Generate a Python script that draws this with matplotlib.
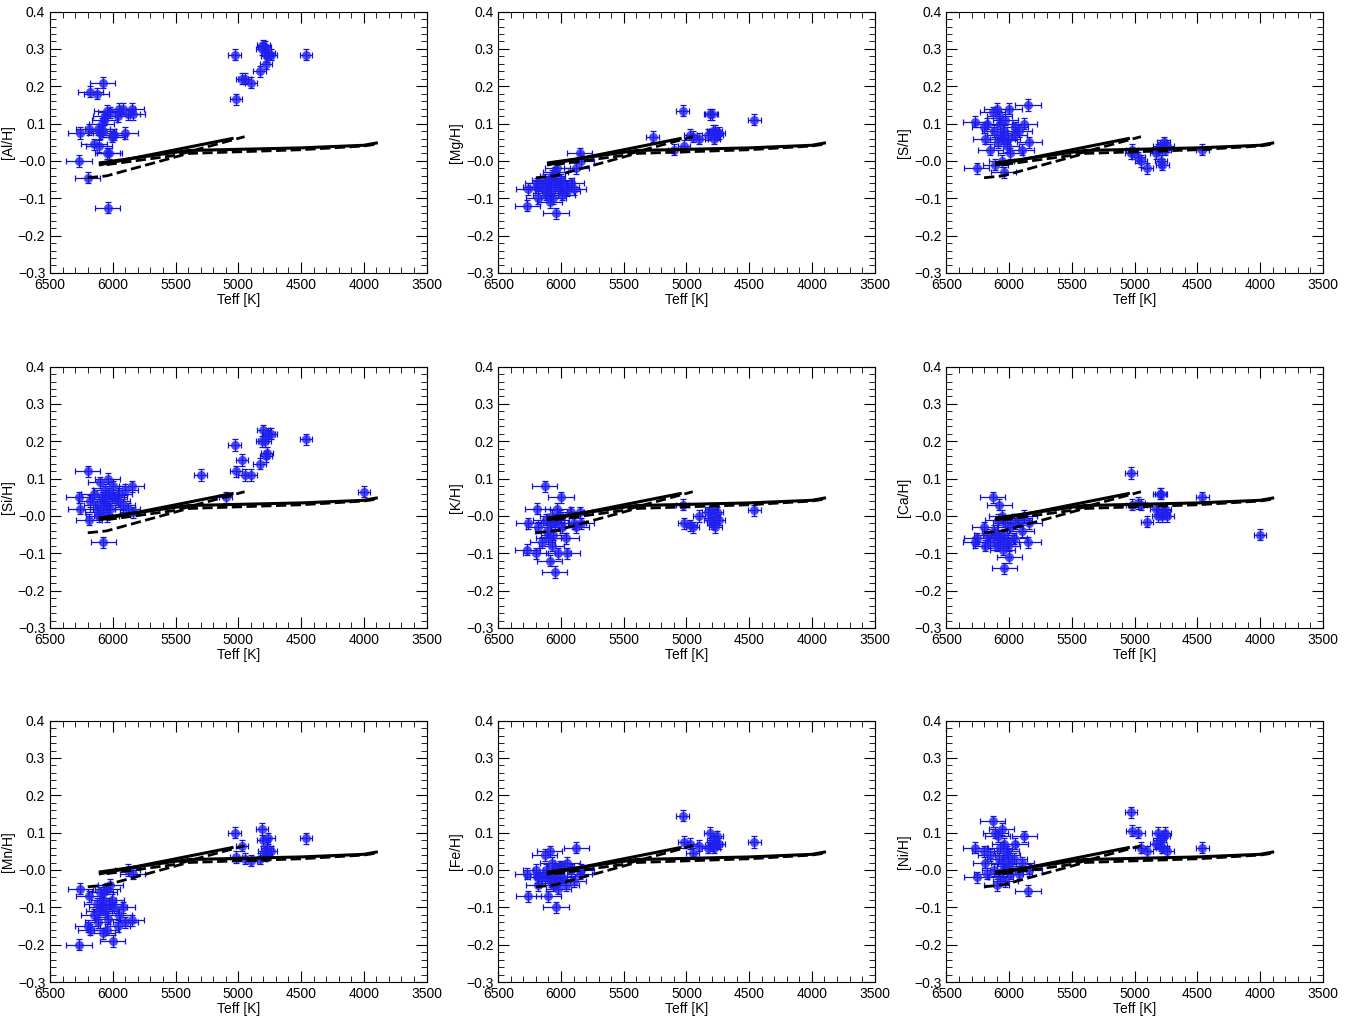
import matplotlib
matplotlib.use("Agg")
import matplotlib.pyplot as plt
from matplotlib.ticker import MultipleLocator, FuncFormatter

plt.rcParams['font.family'] = ['Liberation Sans', 'DejaVu Sans']
plt.rcParams['font.size'] = 10

# Teff of the dwarf and giant stars
teff_dwarf = [6270, 6260, 6200, 6190, 6180, 6150, 6130, 6120, 6100, 6090,
              6080, 6075, 6070, 6060, 6050, 6045, 6040, 6030, 6020, 6000,
              5990, 5960, 5950, 5920, 5900, 5880, 5850, 5840, 6110, 6010]
teff_giant = [5030, 5020, 4970, 4950, 4900, 4830, 4810, 4800, 4790, 4780,
              4770, 4760, 4740, 4460]

al_d = [0.0, 0.075, -0.045, 0.085, 0.185, 0.045, 0.18, 0.085, 0.075, 0.1,
        0.21, 0.08, 0.11, 0.12, 0.135, 0.02, -0.125, 0.02, 0.13, 0.07,
        0.07, 0.12, 0.14, 0.14, 0.075, 0.125, 0.14, 0.125, 0.04, 0.065]
al_g = [0.285, 0.165, 0.22, 0.22, 0.21, 0.24, 0.3, 0.31, 0.305, 0.26,
        0.28, 0.29, 0.285, 0.285]
mg_d = [-0.12, -0.075, -0.07, -0.06, -0.1, -0.07, -0.05, -0.09, -0.06, -0.11,
        -0.08, -0.05, -0.04, -0.1, -0.06, -0.03, -0.14, -0.02, -0.07, -0.05,
        -0.09, -0.07, -0.08, -0.06, -0.075, -0.02, 0.02, 0.0, -0.08, -0.06]
mg_g = [0.135, 0.04, 0.07, 0.065, 0.06, 0.07, 0.125, 0.125, 0.08, 0.06,
        0.08, 0.07, 0.075, 0.11]
s_d = [0.105, -0.02, 0.09, 0.06, 0.1, 0.03, 0.13, 0.08, 0.14, 0.05,
       0.12, 0.07, 0.1, 0.0, 0.06, -0.03, 0.08, 0.11, 0.04, 0.14,
       0.02, 0.07, 0.09, 0.08, 0.03, 0.1, 0.15, 0.05, -0.01, 0.06]
s_g = [0.02, 0.03, 0.01, 0.0, -0.02, 0.02, 0.03, 0.04, 0.0, -0.01,
       0.05, 0.03, 0.04, 0.03]
si_d = [0.05, 0.02, 0.12, -0.01, 0.04, 0.06, 0.03, 0.01, 0.09, 0.05,
        0.02, -0.07, 0.04, 0.07, 0.0, 0.03, 0.1, 0.06, 0.02, 0.08,
        0.05, 0.04, 0.06, 0.03, 0.07, 0.02, 0.08, 0.01, 0.0, 0.05]
si_g = [0.19, 0.12, 0.15, 0.11, 0.11, 0.14, 0.2, 0.23, 0.2, 0.16,
        0.17, 0.22, 0.22, 0.205]
k_d = [-0.09, -0.02, -0.1, 0.02, -0.03, -0.07, 0.08, -0.01, -0.06, -0.12,
       -0.02, -0.08, 0.0, -0.05, -0.15, -0.02, -0.01, 0.02, -0.1, 0.05,
       -0.03, -0.06, -0.1, 0.01, -0.02, -0.03, 0.01, -0.02, -0.04, 0.0]
k_g = [0.03, -0.02, -0.025, -0.03, 0.0, 0.01, -0.01, 0.02, -0.02, 0.0,
       -0.03, 0.01, -0.01, 0.015]
ca_d = [-0.07, -0.06, -0.03, -0.08, -0.05, -0.07, 0.05, -0.04, -0.08, -0.01,
        0.03, -0.06, -0.07, 0.0, -0.09, -0.05, -0.14, -0.02, -0.07, -0.11,
        -0.03, -0.06, -0.02, -0.01, -0.04, 0.0, -0.07, -0.02, -0.05, -0.08]
ca_g = [0.115, 0.03, 0.035, 0.03, -0.015, 0.02, 0.0, 0.06, 0.06, 0.0,
        0.01, 0.02, 0.0, 0.05]
mn_d = [-0.2, -0.05, -0.15, -0.07, -0.16, -0.12, -0.09, -0.14, -0.06, -0.1,
        -0.17, -0.08, -0.06, -0.11, -0.16, -0.05, -0.13, -0.09, -0.04, -0.19,
        -0.1, -0.15, -0.12, -0.1, -0.14, -0.0, -0.135, -0.01, -0.11, -0.08]
mn_g = [0.1, 0.035, 0.065, 0.03, 0.025, 0.03, 0.11, 0.08, 0.05, 0.04,
        0.06, 0.085, 0.05, 0.085]
fe_d = [-0.01, -0.07, 0.0, -0.02, -0.04, -0.02, 0.04, 0.0, -0.07, 0.05,
        -0.03, -0.01, 0.02, -0.04, -0.02, 0.0, -0.1, -0.03, -0.05, 0.01,
        -0.02, -0.04, 0.02, 0.0, -0.03, 0.06, -0.01, 0.0, -0.02, 0.01]
fe_g = [0.145, 0.075, 0.07, 0.045, 0.065, 0.06, 0.1, 0.065, 0.08, 0.06,
        0.07, 0.09, 0.07, 0.075]
ni_d = [0.06, -0.02, 0.05, 0.02, -0.01, 0.04, 0.13, 0.0, -0.04, 0.09,
        0.03, 0.06, -0.02, 0.11, 0.0, 0.02, 0.07, -0.03, 0.05, 0.01,
        -0.01, 0.03, 0.07, -0.01, 0.02, 0.09, -0.055, 0.0, 0.1, 0.04]
ni_g = [0.155, 0.105, 0.1, 0.06, 0.05, 0.07, 0.1, 0.08, 0.065, 0.06,
        0.09, 0.1, 0.05, 0.06]

# extra stars appearing only in some panels
extra_teff = {'Mg': [5270, 5100], 'Si': [5300, 5100, 4000], 'Ca': [4000]}
extra_val = {'Mg': [0.065, 0.03], 'Si': [0.11, 0.05, 0.065], 'Ca': [-0.05]}

elements = ['Al', 'Mg', 'S', 'Si', 'K', 'Ca', 'Mn', 'Fe', 'Ni']
dwarf_vals = [al_d, mg_d, s_d, si_d, k_d, ca_d, mn_d, fe_d, ni_d]
giant_vals = [al_g, mg_g, s_g, si_g, k_g, ca_g, mn_g, fe_g, ni_g]

# model tracks
solid1_t = [6100, 5050]
solid1_v = [-0.01, 0.06]
solid2_t = [6100, 5400, 4500, 4000, 3900]
solid2_v = [-0.005, 0.028, 0.035, 0.042, 0.048]
dash1_t = [6200, 6050, 5400, 4500, 4000, 3900]
dash1_v = [-0.045, -0.04, 0.02, 0.03, 0.04, 0.045]
dash2_t = [6050, 5500, 4950]
dash2_v = [-0.01, 0.015, 0.065]

fig = plt.figure(figsize=(13.54, 10.17), dpi=100)
lefts = [0.037, 0.368, 0.699]
bottoms = [0.7316, 0.3825, 0.0344]
w, h = 0.278, 0.257

fmt = FuncFormatter(lambda v, p: '\u22120.0' if abs(v) < 1e-9 else ('%.1f' % v).replace('-', '\u2212'))

for i, el in enumerate(elements):
    ax = fig.add_axes([lefts[i % 3], bottoms[i // 3], w, h])
    t = teff_dwarf + teff_giant + extra_teff.get(el, [])
    v = dwarf_vals[i] + giant_vals[i] + extra_val.get(el, [])
    xe = [100] * len(teff_dwarf) + [50] * (len(t) - len(teff_dwarf))
    ye = [0.015] * len(t)
    ax.errorbar(t, v, xerr=xe, yerr=ye, fmt='none', ecolor='#1010e0',
                elinewidth=0.9, capsize=2.5, capthick=0.9, zorder=2)
    ax.plot(t, v, 'o', color='#2020f0', alpha=0.8, ms=6.5, mec='none', zorder=3)
    ax.plot(solid1_t, solid1_v, 'k-', lw=2.2, zorder=4)
    ax.plot(solid2_t, solid2_v, 'k-', lw=2.2, zorder=4)
    ax.plot(dash1_t, dash1_v, 'k--', lw=2.0, zorder=4)
    ax.plot(dash2_t, dash2_v, 'k--', lw=2.0, zorder=4)
    ax.set_xlim(6500, 3500)
    ax.set_ylim(-0.3, 0.4)
    ax.xaxis.set_major_locator(MultipleLocator(500))
    ax.xaxis.set_minor_locator(MultipleLocator(100))
    ax.yaxis.set_major_locator(MultipleLocator(0.1))
    ax.yaxis.set_minor_locator(MultipleLocator(0.02))
    ax.yaxis.set_major_formatter(fmt)
    ax.tick_params(which='both', direction='in', top=True, right=True)
    ax.tick_params(which='major', length=8)
    ax.tick_params(which='minor', length=4)
    ax.set_xlabel('Teff [K]', labelpad=1)
    ax.set_ylabel('[%s/H]' % el, labelpad=2)

fig.savefig('out.png', dpi=100)
